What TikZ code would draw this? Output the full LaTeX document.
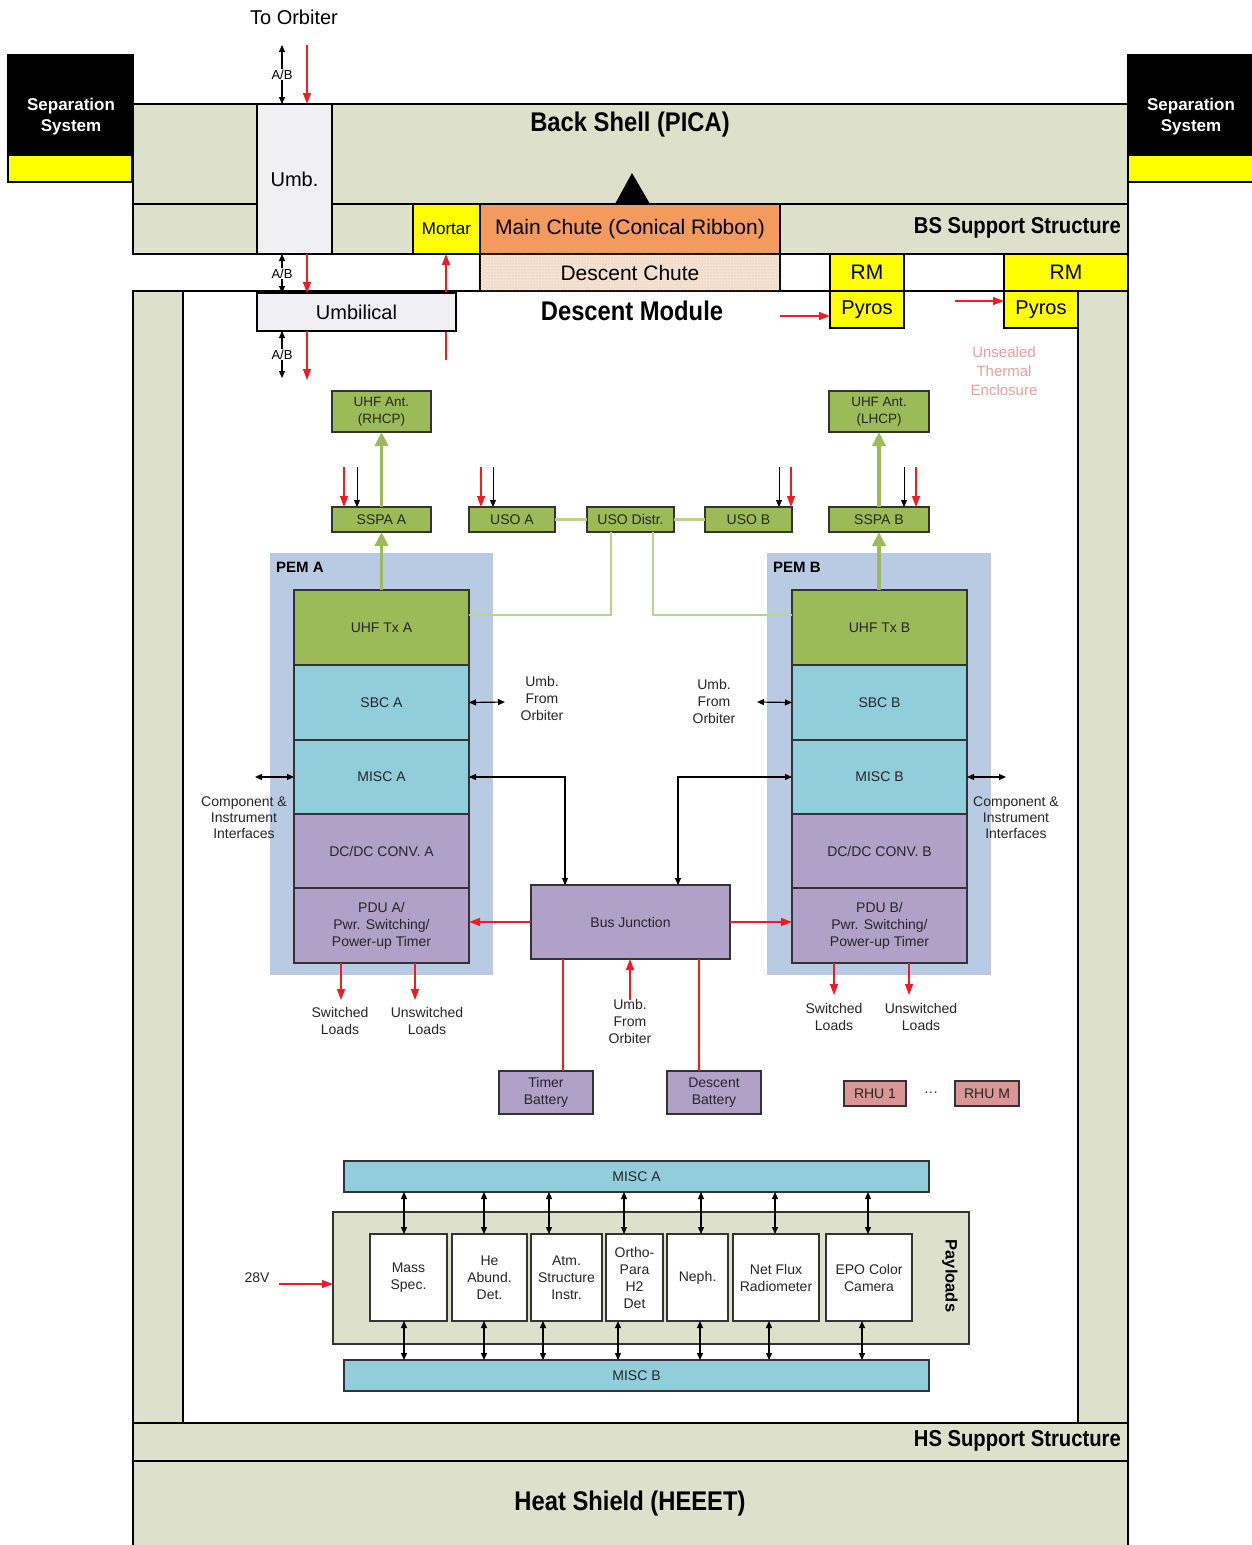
\documentclass[tikz,border=0pt]{standalone}
\usepackage{fontspec}
\setmainfont{Liberation Sans}
\newfontfamily\narrowfont{Liberation Sans}[FakeStretch=0.88]
\usetikzlibrary{arrows.meta,patterns,calc}
\definecolor{beige}{HTML}{DDE0CB}
\definecolor{umbgray}{HTML}{F0F0F2}
\definecolor{tyellow}{HTML}{FFFF00}
\definecolor{torange}{HTML}{F39A5E}
\definecolor{chute}{HTML}{F5E2D2}
\definecolor{chutedot}{HTML}{D8B496}
\definecolor{tgreen}{HTML}{9BBB59}
\definecolor{tblue}{HTML}{92CDDC}
\definecolor{tpurple}{HTML}{B1A0C7}
\definecolor{pembg}{HTML}{B9CBE2}
\definecolor{rhu}{HTML}{DA9694}
\definecolor{pale}{HTML}{BCD28F}
\definecolor{arrred}{HTML}{EE1C24}
\definecolor{pinktxt}{HTML}{E6A0A0}
\newcommand{\fsz}[2]{\fontsize{#1}{#2}\selectfont}
\newcommand{\BX}[7]{\node[#1, anchor=north west, minimum width={#5pt-#3pt}, minimum height={#6pt-#4pt}] (#2) at (#3,#4) {#7};}
\begin{document}
\begin{tikzpicture}[x=1pt,y=-1pt,
  struct/.style={fill=beige, draw=black, line width=2.5pt, inner sep=0pt, outer sep=0pt, align=center},
  comp/.style={draw=black!80, line width=1.4pt, inner sep=1pt, outer sep=0pt, align=center, font={\fsz{14}{17}}, text=black!85},
  gbox/.style={comp, fill=tgreen},
  bbox/.style={comp, fill=tblue},
  pbox/.style={comp, fill=tpurple},
  wbox/.style={comp, fill=white},
  lbl/.style={align=center, font={\fsz{14}{17}}, inner sep=0pt, text=black!85},
  ttl/.style={font={\narrowfont\bfseries\fsz{27}{30}}, inner sep=0pt},
  dbl/.style={{Triangle[length=7pt,width=6pt]}-{Triangle[length=7pt,width=6pt]}, line width=1.2pt},
  blk/.style={-{Triangle[length=7pt,width=6pt]}, line width=1.2pt},
  redarr/.style={-{Triangle[length=11pt,width=8pt]}, draw=arrred, line width=1.3pt},
  redln/.style={draw=arrred, line width=1.3pt},
  garr/.style={-{Triangle[length=14pt,width=13pt]}, draw=tgreen, line width=3.5pt},
  gline/.style={draw=pale, line width=2.2pt}]
\useasboundingbox (0,0) rectangle (1252,1545);

% ---------- Back shell ----------
\BX{struct}{backShell}{133}{104}{1128}{204}{}
\BX{struct}{bsSup}{133}{204}{1128}{254}{}
\BX{struct, fill=umbgray, font={\fsz{20}{24}}}{umb}{257}{104}{332}{254}{Umb.}
\BX{struct, fill=tyellow, font={\fsz{17}{20}}}{mortar}{413}{204}{480}{254}{Mortar}
\BX{struct, fill=torange, font={\fsz{21}{24}}}{mainChute}{480}{204}{780}{254}{Main Chute (Conical Ribbon)}
\fill (615,204) -- (632,173) -- (650,204) -- cycle;
\node[ttl] (bsTxt) at (630,125) {Back Shell (PICA)};
\node[ttl, font={\narrowfont\bfseries\fsz{23}{26}}, anchor=east] (bsSupTxt) at (1121,228) {BS Support Structure};

% ---------- Separation systems ----------
\BX{struct, fill=black}{sepL}{8}{55}{133}{155}{}
\BX{struct, fill=tyellow}{sepLy}{8}{155}{132}{182}{}
\node[font={\bfseries\fsz{17}{21}}, text=white, align=center, inner sep=0pt] (sepLtxt) at (71,117) {Separation\\System};
\BX{struct, fill=black}{sepR}{1128}{55}{1254}{155}{}
\BX{struct, fill=tyellow}{sepRy}{1128}{155}{1254}{182}{}
\node[font={\bfseries\fsz{17}{21}}, text=white, align=center, inner sep=0pt] (sepRtxt) at (1191,117) {Separation\\System};

% ---------- Descent module walls ----------
\BX{struct}{dmOuter}{133}{291}{1128}{1423}{}
\BX{struct, fill=white}{dmInner}{183}{291}{1078}{1423}{}

% ---------- Chutes, RM, Pyros ----------
\BX{struct, fill=chute, postaction={pattern=dots, pattern color=chutedot}, font={\fsz{21}{24}}}{descChute}{480}{254}{780}{291}{Descent Chute}
\BX{struct, fill=tyellow, font={\fsz{21}{24}}}{rmL}{830}{254}{904}{291}{RM}
\BX{struct, fill=tyellow, font={\fsz{20}{24}}}{pyL}{830}{291}{904}{328}{Pyros}
\BX{struct, fill=tyellow, font={\fsz{21}{24}}}{rmR}{1004}{254}{1128}{291}{RM}
\BX{struct, fill=tyellow, font={\fsz{20}{24}}}{pyR}{1004}{291}{1078}{328}{Pyros}

% ---------- To orbiter / umbilical ----------
\node[font={\fsz{20}{24}}, inner sep=0pt] (toOrb) at (294,17) {To Orbiter};
\coordinate (ab1b) at (282,45);
\coordinate (r1b) at (307,45);
\coordinate (mortIn) at (446,360);
\draw[redarr] (mortIn) -- (mortIn |- mortar.south);
\BX{struct, fill=umbgray, line width=2pt, font={\fsz{20}{24}}}{umbilical}{257}{293}{456}{331}{Umbilical}
\coordinate (ab3e) at (282,378);
\coordinate (r3e) at (307,380);
\draw[dbl] (ab1b) -- (ab1b |- umb.north) node[midway, fill=white, inner sep=1pt, font={\fsz{13}{15}}] (ab1) {A/B};
\draw[redarr] (r1b) -- (r1b |- umb.north);
\draw[dbl] (ab1b |- umb.south) -- (ab1b |- umbilical.north) node[midway, fill=white, inner sep=1pt, font={\fsz{13}{15}}] (ab2) {A/B};
\draw[redarr] (r1b |- umb.south) -- (r1b |- umbilical.north);
\draw[dbl] (ab3e |- umbilical.south) -- (ab3e) node[midway, fill=white, inner sep=1pt, font={\fsz{13}{15}}] (ab3) {A/B};
\draw[redarr] (r3e |- umbilical.south) -- (r3e);

\node[ttl] (dmTxt) at (632,311) {Descent Module};
\coordinate (pyLin) at (780,316);
\coordinate (pyRin) at (955,301);
\draw[redarr] (pyLin) -- (pyLin -| pyL.west);
\draw[redarr] (pyRin) -- (pyRin -| pyR.west);
\node[align=center, font={\fsz{15}{19}}, text=pinktxt, inner sep=0pt] (unsealed) at (1004,371) {Unsealed\\Thermal\\Enclosure};

% ---------- Top green boxes ----------
\BX{gbox, font={\fsz{13.5}{17}}}{antA}{332}{391}{431}{432}{UHF Ant.\\(RHCP)}
\BX{gbox, font={\fsz{13.5}{17}}}{antB}{829}{391}{929}{432}{UHF Ant.\\(LHCP)}
\BX{gbox}{sspaA}{332}{507}{431}{532}{SSPA A}
\BX{gbox}{usoA}{469}{507}{555}{532}{USO A}
\BX{gbox}{usoD}{587}{507}{674}{532}{USO Distr.}
\BX{gbox}{usoB}{705}{507}{792}{532}{USO B}
\BX{gbox}{sspaB}{829}{507}{929}{532}{SSPA B}

% ---------- PEMs ----------
\BX{fill=pembg, inner sep=0pt}{pemA}{270}{553}{493}{975}{}
\BX{fill=pembg, inner sep=0pt}{pemB}{767}{553}{991}{975}{}
\node[anchor=west, font={\bfseries\fsz{15}{18}}, inner sep=0pt] (pemAtxt) at (276,567) {PEM A};
\node[anchor=west, font={\bfseries\fsz{15}{18}}, inner sep=0pt] (pemBtxt) at (773,567) {PEM B};

\BX{gbox}{uhfTxA}{294}{590}{469}{665}{UHF Tx A}
\BX{bbox}{sbcA}{294}{665}{469}{740}{SBC A}
\BX{bbox}{miscA}{294}{740}{469}{814}{MISC A}
\BX{pbox}{dcA}{294}{814}{469}{888}{DC/DC CONV. A}
\BX{pbox}{pduA}{294}{888}{469}{963}{PDU A/\\Pwr. Switching/\\Power-up Timer}

\BX{gbox}{uhfTxB}{792}{590}{967}{665}{UHF Tx B}
\BX{bbox}{sbcB}{792}{665}{967}{740}{SBC B}
\BX{bbox}{miscB}{792}{740}{967}{814}{MISC B}
\BX{pbox}{dcB}{792}{814}{967}{888}{DC/DC CONV. B}
\BX{pbox}{pduB}{792}{888}{967}{963}{PDU B/\\Pwr. Switching/\\Power-up Timer}

% ---------- green connections ----------
\draw[garr] (sspaA.north) -- (antA.south);
\draw[garr] (uhfTxA.north -| sspaA.south) -- (sspaA.south);
\draw[garr] (sspaB.north) -- (antB.south);
\draw[garr] (uhfTxB.north -| sspaB.south) -- (sspaB.south);
\draw[gline] (usoA.east) -- (usoD.west);
\draw[gline] (usoD.east) -- (usoB.west);
\draw[gline] ([xshift=-19.5pt]usoD.south) |- ([yshift=12.5pt]uhfTxA.east);
\draw[gline] ([xshift=22.5pt]usoD.south) |- ([yshift=12.5pt]uhfTxB.west);

% ---------- small input arrows ----------
\foreach \nm/\xx in {sA1/344, sA2/357, uA1/481, uA2/493, uB1/779, uB2/791, sB1/904, sB2/916}{
  \coordinate (\nm) at (\xx,467);
}
\draw[redarr, line width=1.1pt] (sA1) -- (sA1 |- sspaA.north);
\draw[blk, line width=1pt] (sA2) -- (sA2 |- sspaA.north);
\draw[redarr, line width=1.1pt] (uA1) -- (uA1 |- usoA.north);
\draw[blk, line width=1pt] (uA2) -- (uA2 |- usoA.north);
\draw[blk, line width=1pt] (uB1) -- (uB1 |- usoB.north);
\draw[redarr, line width=1.1pt] (uB2) -- (uB2 |- usoB.north);
\draw[blk, line width=1pt] (sB1) -- (sB1 |- sspaB.north);
\draw[redarr, line width=1.1pt] (sB2) -- (sB2 |- sspaB.north);

% ---------- Bus junction ----------
\BX{pbox}{busJ}{531}{885}{730}{959}{Bus Junction}
\draw[dbl] (miscA.east) -| ([xshift=-65.5pt]busJ.north);
\draw[dbl] (miscB.west) -| ([xshift=47.5pt]busJ.north);
\draw[redarr] (busJ.west) -- (busJ.west -| pduA.east);
\draw[redarr] (busJ.east) -- (busJ.east -| pduB.west);

% ---------- side labels ----------
\coordinate (sbcAo) at (505,702);
\coordinate (sbcBo) at (757,702);
\draw[dbl] (sbcA.east) -- (sbcAo);
\draw[dbl] (sbcBo) -- (sbcB.west);
\node[lbl] (umbA) at (542,698) {Umb.\\From\\Orbiter};
\node[lbl] (umbB) at (714,701) {Umb.\\From\\Orbiter};
\coordinate (cmpA) at (255,777);
\coordinate (cmpB) at (1006,777);
\draw[dbl] (cmpA) -- (miscA.west);
\draw[dbl] (miscB.east) -- (cmpB);
\node[lbl, font={\fsz{14}{16}}] (cmpAtxt) at (244,818) {Component \&\\Instrument\\Interfaces};
\node[lbl, font={\fsz{14}{16}}] (cmpBtxt) at (1016,818) {Component \&\\Instrument\\Interfaces};

% ---------- loads ----------
\coordinate (ldA1) at (341,1000);
\coordinate (ldA2) at (415,1000);
\coordinate (ldB1) at (834,995);
\coordinate (ldB2) at (909,995);
\draw[redarr] (ldA1 |- pduA.south) -- (ldA1);
\draw[redarr] (ldA2 |- pduA.south) -- (ldA2);
\draw[redarr] (ldB1 |- pduB.south) -- (ldB1);
\draw[redarr] (ldB2 |- pduB.south) -- (ldB2);
\node[lbl] (swA) at (340,1021) {Switched\\Loads};
\node[lbl] (uswA) at (427,1021) {Unswitched\\Loads};
\node[lbl] (swB) at (834,1017) {Switched\\Loads};
\node[lbl] (uswB) at (921,1017) {Unswitched\\Loads};

% ---------- batteries ----------
\BX{pbox}{timerBat}{499}{1071}{593}{1114}{Timer\\Battery}
\BX{pbox}{descBat}{667}{1071}{761}{1114}{Descent\\Battery}
\draw[redln] (563,0 |- busJ.south) -- (563,0 |- timerBat.north);
\draw[redln] (699,0 |- busJ.south) -- (699,0 |- descBat.north);
\coordinate (umbC) at (630,1000);
\draw[redarr] (umbC) -- (umbC |- busJ.south);
\node[lbl] (umbCtxt) at (630,1021) {Umb.\\From\\Orbiter};

% ---------- RHU ----------
\BX{comp, fill=rhu}{rhu1}{844}{1081}{906}{1106}{RHU 1}
\BX{comp, fill=rhu}{rhuM}{955}{1081}{1019}{1106}{RHU M}
\node[lbl] (rhuDots) at (931,1094) {···};

% ---------- Payloads ----------
\BX{bbox}{miscAbar}{344}{1161}{929}{1192}{MISC A}
\BX{comp, fill=beige}{payloads}{333}{1212}{969}{1344}{}
\BX{bbox}{miscBbar}{344}{1360}{929}{1391}{MISC B}
\node[font={\bfseries\fsz{16.5}{20}}, rotate=-90, inner sep=0pt] (payTxt) at (950,1276) {Payloads};
\BX{wbox}{p1}{370}{1234}{447}{1321}{Mass\\Spec.}
\BX{wbox}{p2}{452}{1234}{527}{1321}{He\\Abund.\\Det.}
\BX{wbox}{p3}{531}{1234}{602}{1321}{Atm.\\Structure\\Instr.}
\BX{wbox}{p4}{606}{1234}{663}{1321}{Ortho-\\Para\\H2\\Det}
\BX{wbox}{p5}{667}{1234}{728}{1321}{Neph.}
\BX{wbox}{p6}{733}{1234}{819}{1321}{Net Flux\\Radiometer}
\BX{wbox}{p7}{826}{1234}{912}{1321}{EPO Color\\Camera}
\foreach \pp/\xt/\xb in {p1/404/404, p2/484/484, p3/549/543, p4/624/618, p5/701/700, p6/775/769, p7/868/862}{
  \draw[dbl] (\xt,0 |- miscAbar.south) -- (\xt,0 |- \pp.north);
  \draw[dbl] (\xb,0 |- \pp.south) -- (\xb,0 |- miscBbar.north);
}
\node[lbl] (v28) at (257,1278) {28V};
\coordinate (v28s) at (279,1284);
\draw[redarr] (v28s) -- (v28s -| payloads.west);

% ---------- Heat shield ----------
\BX{struct}{hsSup}{133}{1423}{1128}{1461}{}
\BX{struct}{heatShield}{133}{1461}{1128}{1575}{}
\node[ttl, font={\narrowfont\bfseries\fsz{23}{26}}, anchor=east] (hsSupTxt) at (1121,1441) {HS Support Structure};
\node[ttl] (hsTxt) at (630,1503) {Heat Shield (HEEET)};
\end{tikzpicture}
\end{document}
